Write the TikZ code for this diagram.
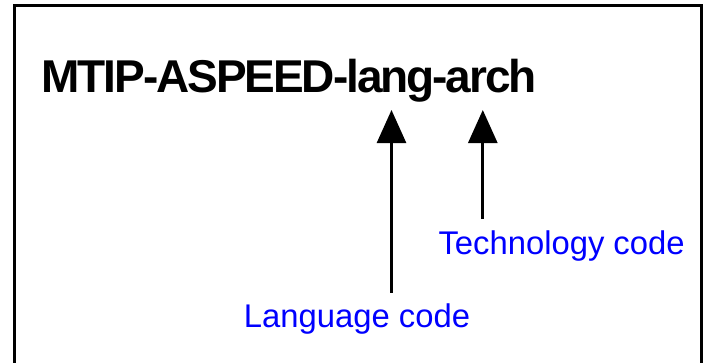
\documentclass[tikz,border=0pt]{standalone}
\usepackage{fontspec}
\setmainfont{Liberation Sans}
\newfontfamily\titlefont[LetterSpace=-4.5]{Liberation Sans}
\usetikzlibrary{arrows.meta}
\definecolor{labelblue}{RGB}{0,0,255}
\tikzset{
  frameline/.style={line width=2.7pt, line cap=rect},
  uparrow/.style={line width=2.7pt, -{Triangle[length=33pt,width=29pt]}},
  titletext/.style={inner sep=0pt, anchor=base west, font=\titlefont\bfseries\fontsize{46}{50}\selectfont},
  labeltext/.style={inner sep=0pt, anchor=base west, text=labelblue, font=\fontsize{32.8}{36}\selectfont}
}
\begin{document}
\begin{tikzpicture}[x=1pt,y=-1pt]
\useasboundingbox (0,0) rectangle (707,362);
\coordinate (fbl) at (14.3,364);
\coordinate (ftl) at (14.3,5.2);
\coordinate (ftr) at (701.3,5.2);
\coordinate (fbr) at (701.3,364);
\draw[frameline] (fbl) -- (ftl) -- (ftr) -- (fbr);
\node[titletext] (title) at (41.3,92) {MTIP-ASPEED-lang-arch};
\node[labeltext] (tech) at (438.3,254) {Technology code};
\node[labeltext] (lang) at (243.7,327) {Language code};
\coordinate (langstart) at (391.5,292.5);
\coordinate (langtip) at (391.5,110);
\coordinate (techstart) at (482.8,219);
\coordinate (techtip) at (482.8,110);
\draw[uparrow] (langstart) -- (langtip);
\draw[uparrow] (techstart) -- (techtip);
\end{tikzpicture}
\end{document}
